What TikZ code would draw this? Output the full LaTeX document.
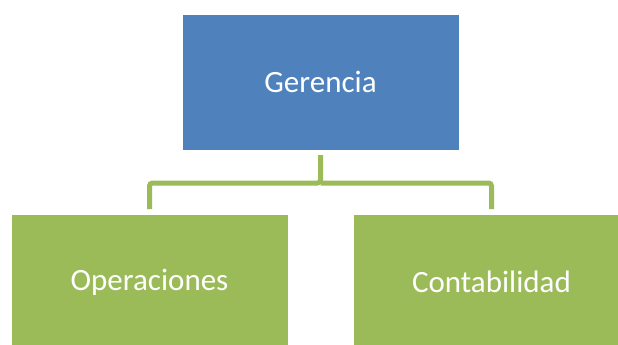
\documentclass[tikz,border=0pt]{standalone}
\usepackage{fontspec}
\setmainfont{Carlito}
\definecolor{boxblue}{HTML}{4F81BD}
\definecolor{boxgreen}{HTML}{9BBB59}

\begin{document}
\begin{tikzpicture}[x=1pt,y=-1pt,
    orgbox/.style={draw=white, line width=0.6pt, minimum width=277pt, minimum height=136pt,
        inner sep=0pt, outer sep=5pt, text=white, font=\fontsize{31}{36}\selectfont},
    link/.style={boxgreen, line width=5pt, rounded corners=3pt}]

    % Fix the page to the size of the reference
    \useasboundingbox (0,0) rectangle (618,345);

    % Centres of the three boxes
    \coordinate (G) at (320.5, 82);
    \coordinate (O) at (149.5, 282);
    \coordinate (C) at (491.5, 282);

    % Height of the horizontal bar
    \coordinate (bus) at (320.5, 183);

    % Draw the boxes
    \node[orgbox, fill=boxblue] (ger) at (G) {Gerencia};
    \node[orgbox, fill=boxgreen] (ope) at (O) {Operaciones};
    \node[orgbox, fill=boxgreen] (con) at (C) {Contabilidad};

    % Connectors from the top box to the two boxes below
    \draw[link] (ger.south) -- (ger.south |- bus) -| (ope.north);
    \draw[link] (ger.south |- bus) -| (con.north);

\end{tikzpicture}
\end{document}
